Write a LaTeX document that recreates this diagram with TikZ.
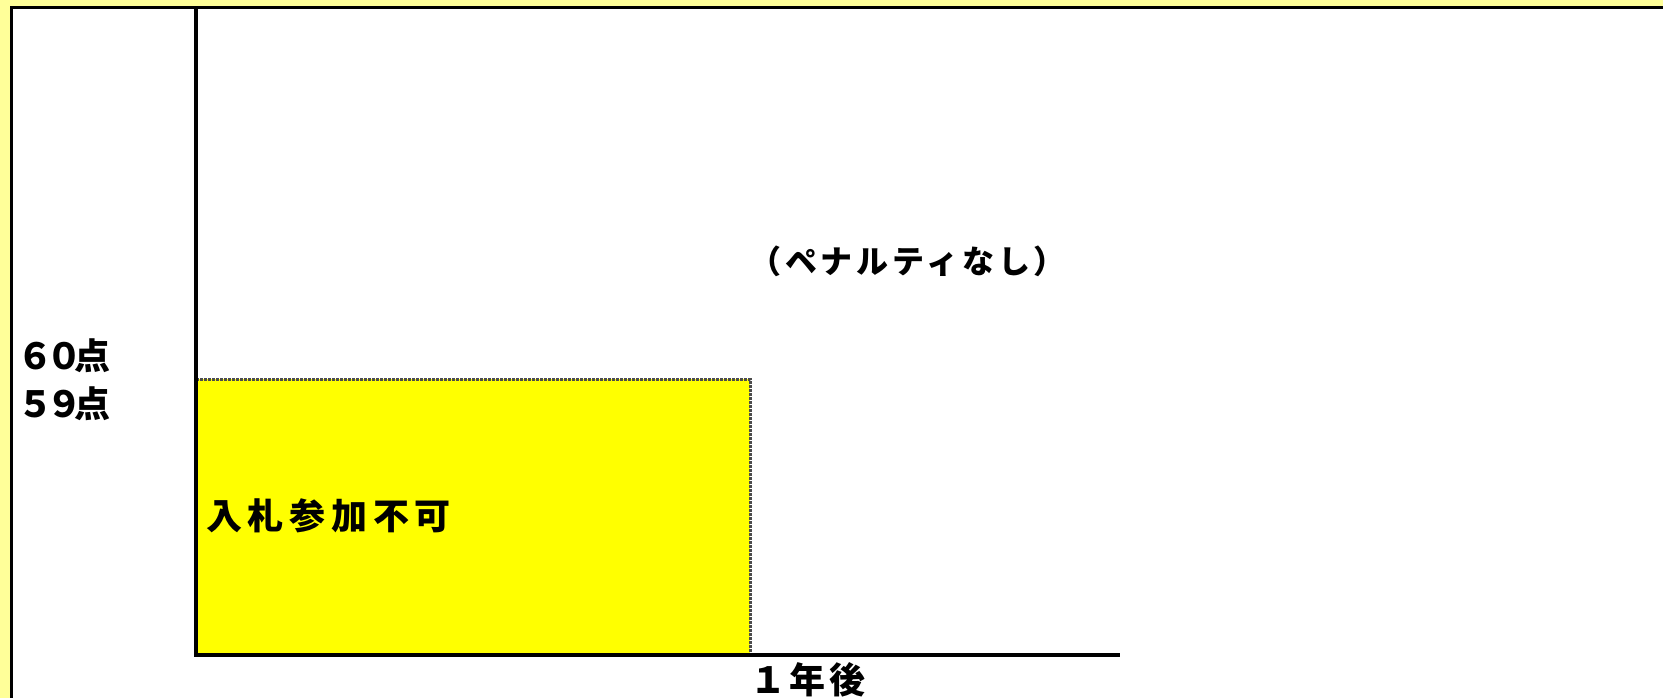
\documentclass[tikz,border=0pt]{standalone}
\usepackage{fontspec}
\newfontfamily\jp{Noto Sans CJK JP}
\definecolor{bgyellow}{HTML}{FFFF99}
\definecolor{boxyellow}{HTML}{FFFF00}
\begin{document}
\begin{tikzpicture}[
            x=1pt, y=-1pt, % 1pt = 1px
            axis/.style={line width=3.5pt}, % 坐标轴
            hatchline/.style={line width=3pt, draw=black!70, dash pattern=on 3pt off 1pt}, % 黄色区域的边
            every node/.style={
                inner sep=0, % 内边距为 0
                font=\jp\bfseries % 日文粗体
            },
            score/.style={anchor=west, font=\jp\bfseries\fontsize{36}{36}\selectfont\addfontfeatures{LetterSpace=-20}}, % 分数
            label/.style={anchor=west, font=\jp\bfseries\fontsize{36}{36}\selectfont\addfontfeatures{LetterSpace=16}} % 其他文字
        ]
        \useasboundingbox (0,0) rectangle (1663,698);

        % 背景和外框
        \fill[bgyellow] (0,0) rectangle (1663,698);
        \fill[white] (11,8) rectangle (1663,698);
        \draw[line width=3pt] (11,698) -- (11,8) -- (1663,8);

        % 坐标点
        \coordinate (o) at (196,655); % 原点
        \coordinate (ytop) at (196,8); % 纵轴顶端
        \coordinate (xend) at (1120,655); % 横轴末端
        \coordinate (boxtr) at (750,379); % 黄色区域右上角

        % 入札参加不可的区域
        \fill[boxyellow] (o) rectangle (boxtr);
        \draw[hatchline] (o |- boxtr) -- (boxtr) -- (boxtr |- o);

        % 坐标轴
        \draw[axis] (ytop) -- (o) -- (xend);

        % 文字
        \node[score] (s60) at (17,356) {６０点};
        \node[score] (s59) at (17,404) {５９点};
        \node[label] (ng) at (206,516) {入札参加不可};
        \node[label, font=\jp\bfseries\fontsize{32}{32}\selectfont\addfontfeatures{LetterSpace=12}] (ok) at (749,261) {（ペナルティなし）};
        \node[label, font=\jp\bfseries\fontsize{36}{36}\selectfont\addfontfeatures{LetterSpace=10}] (year) at (750,680) {１年後};
        \end{tikzpicture}
\end{document}
